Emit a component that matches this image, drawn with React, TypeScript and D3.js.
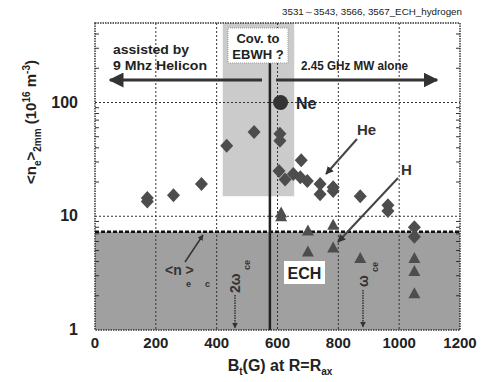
import React from 'react';
import * as d3 from 'd3';

// diamonds (hydrogen, helicon-assisted + MW alone)
const diamondBt = [172, 172, 258, 350, 433, 523, 608, 608, 678, 605, 625, 652, 675, 698, 740, 740, 783, 783, 872, 963, 963, 1050, 1050];
const diamondNe = [13.5, 14.5, 15.3, 19.2, 41.6, 55, 53, 46, 31, 25, 21, 23.5, 22, 20.4, 19.2, 15.6, 18, 16.7, 15, 12.5, 11.1, 8, 6.6];
// triangles
const triBt = [612, 612, 700, 700, 783, 783, 872, 1050, 1050, 1050];
const triNe = [10.8, 10.0, 7.5, 4.9, 8.4, 5.3, 4.3, 4.3, 3.3, 2.1];
// Ne circle
const neonBt = [610];
const neonNe = [100];

const xTicks = [0, 200, 400, 600, 800, 1000, 1200];
const yTicks = [1, 10, 100];
const cutoffNe = 7.3;
const bandBt = [420, 655];
const bandNeLow = 15;
const resonanceBt = 575;

const W = 481;
const H = 382;
const x = d3.scaleLinear().domain([0, 1200]).range([95, 460]);
const y = d3.scaleLog().domain([1, 500]).range([330, 23]);

const font = "'Liberation Sans', Arial, sans-serif";
const mark = '#4d4d4d';

function Diamond({ cx, cy }: { cx: number; cy: number }) {
  return <path d={`M${cx},${cy - 7}L${cx + 6.5},${cy}L${cx},${cy + 7}L${cx - 6.5},${cy}Z`} fill={mark} />;
}
function Tri({ cx, cy }: { cx: number; cy: number }) {
  return <path d={`M${cx},${cy - 6}L${cx + 6},${cy + 5}L${cx - 6},${cy + 5}Z`} fill={mark} />;
}

export default function App() {
  const [x0, x1] = x.range();
  const [yb, yt] = y.range();
  const minor: number[] = [];
  for (const dec of [1, 10, 100]) for (let k = 2; k <= 9; k++) if (dec * k < 500) minor.push(dec * k);

  return (
    <svg width={W} height={H} style={{ position: 'absolute', left: 0, top: 0, background: '#fff' }} fontFamily={font}>
      <defs>
        <marker id="ah" viewBox="0 0 10 10" refX="9" refY="5" markerWidth="5" markerHeight="5" orient="auto-start-reverse">
          <path d="M0,0L10,5L0,10Z" fill="#333" />
        </marker>
        <marker id="ahs" viewBox="0 0 10 10" refX="9" refY="5" markerWidth="4" markerHeight="4" orient="auto">
          <path d="M0,0L10,5L0,10Z" fill="#333" />
        </marker>
      </defs>

      <text x={462} y={15} fontSize={9} textAnchor="end" fill="#222" textLength={180} lengthAdjust="spacingAndGlyphs">
        3531～3543, 3566, 3567_ECH_hydrogen
      </text>

      {/* shaded regions */}
      <rect x={x(bandBt[0])} y={yt} width={x(bandBt[1]) - x(bandBt[0])} height={y(bandNeLow) - yt} fill="#cbcbcb" />
      <rect x={x0} y={y(cutoffNe)} width={x1 - x0} height={yb - y(cutoffNe)} fill="#a0a0a0" />

      {/* grid */}
      {xTicks.slice(1, -1).map(t => (
        <line key={'gx' + t} x1={x(t)} x2={x(t)} y1={yt} y2={yb} stroke="#333" strokeWidth={1} strokeDasharray="2,2" />
      ))}
      {yTicks.slice(1).map(t => (
        <line key={'gy' + t} x1={x0} x2={x1} y1={y(t)} y2={y(t)} stroke="#333" strokeWidth={1} strokeDasharray="2,2" />
      ))}
      {minor.map(t => (
        <g key={'m' + t}>
          <line x1={x0} x2={x0 + 4} y1={y(t)} y2={y(t)} stroke="#333" />
          <line x1={x1 - 4} x2={x1} y1={y(t)} y2={y(t)} stroke="#333" />
        </g>
      ))}
      <rect x={x0} y={yt} width={x1 - x0} height={yb - yt} fill="none" stroke="#333" strokeWidth={1.5} strokeDasharray="1.5,1" />

      {/* cutoff line */}
      <line x1={x0} x2={x1} y1={y(cutoffNe)} y2={y(cutoffNe)} stroke="#111" strokeWidth={2.5} strokeDasharray="4,2" />

      {/* resonance line */}
      <line x1={x(resonanceBt)} x2={x(resonanceBt)} y1={63} y2={yb} stroke="#222" strokeWidth={2.5} />

      {/* top arrows */}
      <line x1={262} x2={110} y1={80} y2={80} stroke="#333" strokeWidth={3} markerEnd="url(#ah)" />
      <line x1={276} x2={437} y1={80} y2={80} stroke="#333" strokeWidth={3} markerEnd="url(#ah)" />
      <text x={113} y={54} fontSize={12.5} fontWeight="bold" fill="#222" textLength={76} lengthAdjust="spacingAndGlyphs">assisted by</text>
      <text x={113} y={70} fontSize={12.5} fontWeight="bold" fill="#222" textLength={94} lengthAdjust="spacingAndGlyphs">9 Mhz Helicon</text>
      <text x={301} y={70} fontSize={12.5} fontWeight="bold" fill="#222" textLength={107} lengthAdjust="spacingAndGlyphs">2.45 GHz MW alone</text>

      <rect x={228} y={28} width={60} height={35} fill="#fff" stroke="#999" strokeDasharray="1,1" />
      <text x={258} y={43} fontSize={13} fontWeight="bold" textAnchor="middle" fill="#222">Cov. to</text>
      <text x={258} y={59} fontSize={13} fontWeight="bold" textAnchor="middle" fill="#222">EBWH ?</text>

      {/* markers */}
      {diamondBt.map((b, i) => <Diamond key={'d' + i} cx={x(b)} cy={y(diamondNe[i])} />)}
      {triBt.map((b, i) => <Tri key={'t' + i} cx={x(b)} cy={y(triNe[i])} />)}
      {neonBt.map((b, i) => <circle key={'c' + i} cx={x(b)} cy={y(neonNe[i])} r={7.5} fill="#333" />)}

      {/* labels */}
      <text x={296} y={109} fontSize={16} fontWeight="bold" fill="#222">Ne</text>
      <text x={357} y={135} fontSize={15} fontWeight="bold" fill="#333">He</text>
      <line x1={357} y1={139} x2={326} y2={174} stroke="#444" strokeWidth={2} markerEnd="url(#ahs)" />
      <text x={401} y={175} fontSize={15} fontWeight="bold" fill="#333">H</text>
      <line x1={398} y1={178} x2={338} y2={242} stroke="#444" strokeWidth={2} markerEnd="url(#ahs)" />

      <line x1={185} y1={262} x2={203} y2={235} stroke="#333" strokeWidth={1.5} markerEnd="url(#ahs)" />
      <text x={165} y={275} fontSize={14} fontWeight="bold" fill="#333">{'<n  >'}</text>
      <text x={186} y={287} fontSize={9} fontWeight="bold" fill="#333">e</text>
      <text x={205} y={287} fontSize={9} fontWeight="bold" fill="#333">c</text>

      <text transform="translate(240,293) rotate(-90)" fontSize={14} fontWeight="bold" fill="#333">2ω</text>
      <text transform="translate(250,270) rotate(-90)" fontSize={9} fontWeight="bold" fill="#333">ce</text>
      <line x1={235} y1={295} x2={235} y2={328} stroke="#333" strokeWidth={1.5} strokeDasharray="1.5,1" markerEnd="url(#ahs)" />

      <text transform="translate(368,287) rotate(-90)" fontSize={14} fontWeight="bold" fill="#333">ω</text>
      <text transform="translate(378,272) rotate(-90)" fontSize={9} fontWeight="bold" fill="#333">ce</text>
      <line x1={363} y1={290} x2={363} y2={327} stroke="#333" strokeWidth={1.5} strokeDasharray="1.5,1" markerEnd="url(#ahs)" />

      <rect x={284} y={261} width={41} height={23} fill="#fff" />
      <text x={304.5} y={279} fontSize={16} fontWeight="bold" textAnchor="middle" fill="#222">ECH</text>

      {/* axes tick labels */}
      {xTicks.map(t => (
        <text key={'xt' + t} x={x(t)} y={348} fontSize={15} fontWeight="bold" textAnchor="middle" fill="#222">{t}</text>
      ))}
      {yTicks.map(t => (
        <text key={'yt' + t} x={78} y={y(t) + 5} fontSize={16} fontWeight="bold" textAnchor="end" fill="#222">{t}</text>
      ))}

      {/* axis titles */}
      <text x={280} y={371} fontSize={16} fontWeight="bold" textAnchor="middle" fill="#222">
        B<tspan fontSize={10} dy={4}>t</tspan><tspan dy={-4}>(G) at R=R</tspan><tspan fontSize={10} dy={4}>ax</tspan>
      </text>
      <text transform="translate(36,122) rotate(-90)" fontSize={15} fontWeight="bold" textAnchor="middle" fill="#222">
        {'<n'}<tspan fontSize={10} dy={5}>e</tspan><tspan dy={-5}>{'>'}</tspan><tspan fontSize={10} dy={5}>2mm</tspan>
        <tspan dy={-5}> (10</tspan><tspan fontSize={10} dy={-6}>16</tspan><tspan dy={6}> m</tspan><tspan fontSize={10} dy={-6}>-3</tspan><tspan dy={6}>)</tspan>
      </text>
    </svg>
  );
}
